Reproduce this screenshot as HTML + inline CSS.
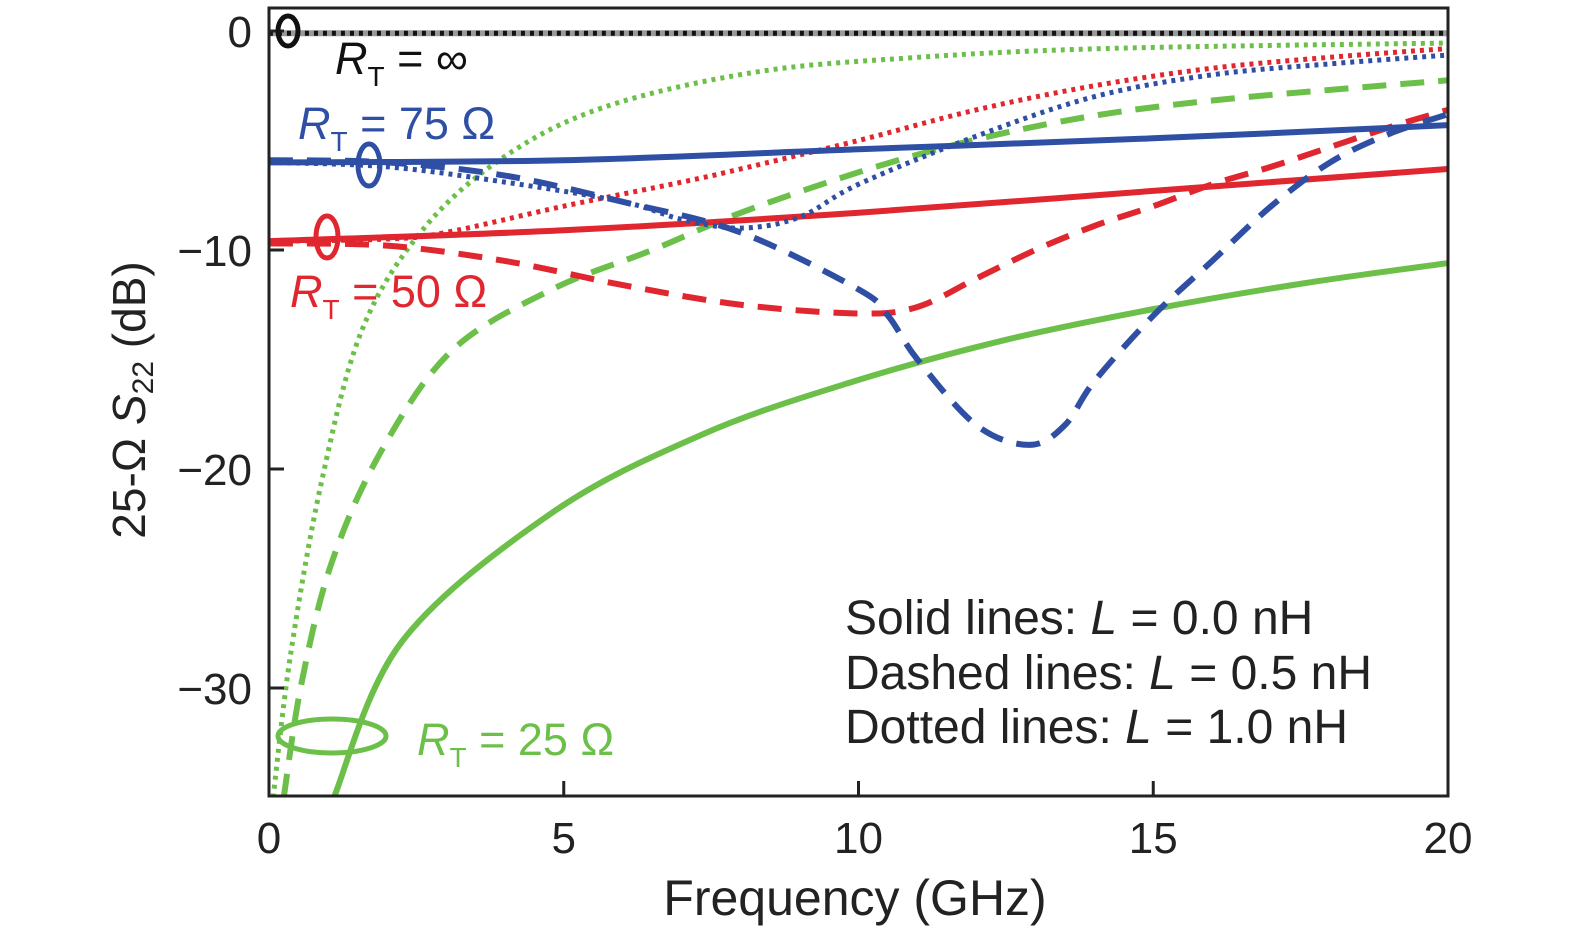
<!DOCTYPE html>
<html><head><meta charset="utf-8"><style>
html,body{margin:0;padding:0;overflow:hidden;background:#fff;width:1575px;height:935px;}
svg{display:block;font-family:"Liberation Sans","DejaVu Sans",sans-serif;}
</style></head><body>
<svg id="chart" width="1575" height="935" viewBox="0 0 1575 935">
<g id="marks"></g>
<rect x="269" y="8" width="1179" height="788" fill="none" stroke="#222" stroke-width="3"/>
<g id="ticks"></g>
<g font-size="45">
<ellipse cx="288" cy="31" rx="10" ry="15" fill="none" stroke="#111" stroke-width="5"/>
<ellipse cx="369" cy="165" rx="11" ry="21" fill="none" stroke="#2e4fa3" stroke-width="5"/>
<ellipse cx="327" cy="237" rx="11" ry="21" fill="none" stroke="#e0262e" stroke-width="5"/>
<ellipse cx="332" cy="736" rx="54" ry="17" fill="none" stroke="#6cc04a" stroke-width="5"/>
<text x="335" y="74" fill="#111"><tspan font-style="italic">R</tspan><tspan font-size="28" dy="12">T</tspan><tspan dy="-12"> = ∞</tspan></text>
<text x="298" y="139" fill="#2e4fa3"><tspan font-style="italic">R</tspan><tspan font-size="28" dy="12">T</tspan><tspan dy="-12"> = 75 Ω</tspan></text>
<text x="290" y="307" fill="#e0262e"><tspan font-style="italic">R</tspan><tspan font-size="28" dy="12">T</tspan><tspan dy="-12"> = 50 Ω</tspan></text>
<text x="417" y="755" fill="#6cc04a"><tspan font-style="italic">R</tspan><tspan font-size="28" dy="12">T</tspan><tspan dy="-12"> = 25 Ω</tspan></text>
</g>
<g font-size="48" fill="#222">
<text x="845" y="634">Solid lines: <tspan font-style="italic">L</tspan> = 0.0 nH</text>
<text x="845" y="689">Dashed lines: <tspan font-style="italic">L</tspan> = 0.5 nH</text>
<text x="845" y="743">Dotted lines: <tspan font-style="italic">L</tspan> = 1.0 nH</text>
</g>
<text x="855" y="915" font-size="50" text-anchor="middle" fill="#222">Frequency (GHz)</text>
<text transform="translate(145,400) rotate(-90)" font-size="46" text-anchor="middle" fill="#222">25-Ω <tspan font-style="italic">S</tspan><tspan font-size="30" dy="8">22</tspan><tspan dy="-8"> (dB)</tspan></text>
</svg>
<script>
const xTicks=[0,5,10,15,20];
const yTicks=[0,-10,-20,-30];
const yTickLabels=["0","−10","−20","−30"];
const black0x=[0,20], black0y=[-0.1,-0.1];
const blueSolidX=[0,5,10,15,20], blueSolidY=[-6.0,-5.9,-5.4,-4.9,-4.3];
const blueDashX=[0,2,4,6,8,10,10.5,11,12,12.9,13.5,14,15,16,17,18,19,20];
const blueDashY=[-5.9,-6.0,-6.6,-7.8,-9.2,-11.8,-13,-15,-18,-18.9,-18,-16,-13,-10.5,-8,-6,-4.7,-3.8];
const blueDotX=[0,2,4,6,7,8,9,10,12,14,16,18,20];
const blueDotY=[-6.0,-6.2,-6.9,-7.8,-8.6,-9.0,-8.5,-7.0,-4.8,-3.0,-2.0,-1.5,-1.1];
const redSolidX=[0,5,10,15,20], redSolidY=[-9.6,-9.1,-8.3,-7.3,-6.3];
const redDashX=[0,2,4,6,8,10,11,12,13,14,15,16,17,18,19,20];
const redDashY=[-9.7,-9.8,-10.5,-11.6,-12.5,-12.9,-12.6,-11.3,-10,-8.9,-8,-7,-6.2,-5.3,-4.4,-3.6];
const redDotX=[0,2,3,5,7,8,10,12,14,16,18,20];
const redDotY=[-9.6,-9.5,-9.2,-8.0,-6.9,-6.3,-5.0,-3.6,-2.5,-1.7,-1.2,-0.8];
const greenSolidX=[1.1,2.25,4.8,7.37,9.92,12.5,15,17.6,20];
const greenSolidY=[-35,-27.9,-22,-18.4,-16,-14.1,-12.7,-11.5,-10.6];
const greenDashX=[0.25,0.55,1.06,1.9,3.1,4.8,6.5,8.2,10.8,13.3,15.9,20];
const greenDashY=[-35,-29.8,-24.3,-19.2,-14.6,-11.8,-10,-8.1,-5.8,-4.2,-3.2,-2.25];
const greenDotX=[0.07,0.37,0.89,1.57,2.6,3.96,5.66,8.2,10.8,14.2,20];
const greenDotY=[-35,-28.4,-20.6,-13.7,-9.1,-5.8,-3.5,-1.9,-1.24,-0.8,-0.55];

const X=v=>269+v*58.95, Y=v=>31-v*21.9;
const NS="http://www.w3.org/2000/svg";
const marks=document.getElementById('marks'), ticks=document.getElementById('ticks');
function path(xs,ys){
  const p=xs.map((x,i)=>[X(x),Y(ys[i])]);
  let d="M"+p[0][0]+","+p[0][1];
  for(let i=0;i<p.length-1;i++){
    const p0=p[Math.max(i-1,0)],p1=p[i],p2=p[i+1],p3=p[Math.min(i+2,p.length-1)];
    d+=" C"+(p1[0]+(p2[0]-p0[0])/6)+","+(p1[1]+(p2[1]-p0[1])/6)+" "+(p2[0]-(p3[0]-p1[0])/6)+","+(p2[1]-(p3[1]-p1[1])/6)+" "+p2[0]+","+p2[1];
  }
  return d;
}
function line(xs,ys,color,style,name){
  const el=document.createElementNS(NS,'path');
  el.setAttribute('d',path(xs,ys));
  el.setAttribute('fill','none');el.setAttribute('stroke',color);
  el.setAttribute('stroke-width',style==='dot'?5:6);
  if(style==='dash')el.setAttribute('stroke-dasharray','24 14');
  if(style==='dot')el.setAttribute('stroke-dasharray','4 5');
  
  
  marks.appendChild(el);
}
const cp=document.createElementNS(NS,'clipPath');cp.id='clp';
const cr=document.createElementNS(NS,'rect');cr.setAttribute('x',269);cr.setAttribute('y',8);cr.setAttribute('width',1179);cr.setAttribute('height',788);
cp.appendChild(cr);document.getElementById('chart').appendChild(cp);
marks.setAttribute('clip-path','url(#clp)');
line(greenSolidX,greenSolidY,'#6cc04a','solid','green-solid-line');
line(greenDashX,greenDashY,'#6cc04a','dash','green-dashed-line');
line(greenDotX,greenDotY,'#6cc04a','dot','green-dotted-line');
line(redSolidX,redSolidY,'#e0262e','solid','red-solid-line');
line(redDashX,redDashY,'#e0262e','dash','red-dashed-line');
line(redDotX,redDotY,'#e0262e','dot','red-dotted-line');
line(blueSolidX,blueSolidY,'#2e4fa3','solid','blue-solid-line');
line(blueDashX,blueDashY,'#2e4fa3','dash','blue-dashed-line');
line(blueDotX,blueDotY,'#2e4fa3','dot','blue-dotted-line');
line(black0x,black0y,'#999','solid','black-solid-line');
line(black0x,black0y,'#111','dot','black-dotted-line');
xTicks.forEach(v=>{
  const t=document.createElementNS(NS,'line');
  t.setAttribute('x1',X(v));t.setAttribute('x2',X(v));t.setAttribute('y1',796);t.setAttribute('y2',781);
  t.setAttribute('stroke','#222');t.setAttribute('stroke-width',3);
  
  
  ticks.appendChild(t);
  const l=document.createElementNS(NS,'text');
  l.setAttribute('x',X(v));l.setAttribute('y',853);l.setAttribute('font-size',44);l.setAttribute('text-anchor','middle');l.setAttribute('fill','#222');
  l.textContent=v;
  
  
  ticks.appendChild(l);
});
yTicks.forEach((v,i)=>{
  const t=document.createElementNS(NS,'line');
  t.setAttribute('x1',269);t.setAttribute('x2',284);t.setAttribute('y1',Y(v));t.setAttribute('y2',Y(v));
  t.setAttribute('stroke','#222');t.setAttribute('stroke-width',3);
  
  
  ticks.appendChild(t);
  const l=document.createElementNS(NS,'text');
  l.setAttribute('x',252);l.setAttribute('y',Y(v)+16);l.setAttribute('font-size',44);l.setAttribute('text-anchor','end');l.setAttribute('fill','#222');
  l.textContent=yTickLabels[i];
  
  
  ticks.appendChild(l);
});
</script>
</body></html>
